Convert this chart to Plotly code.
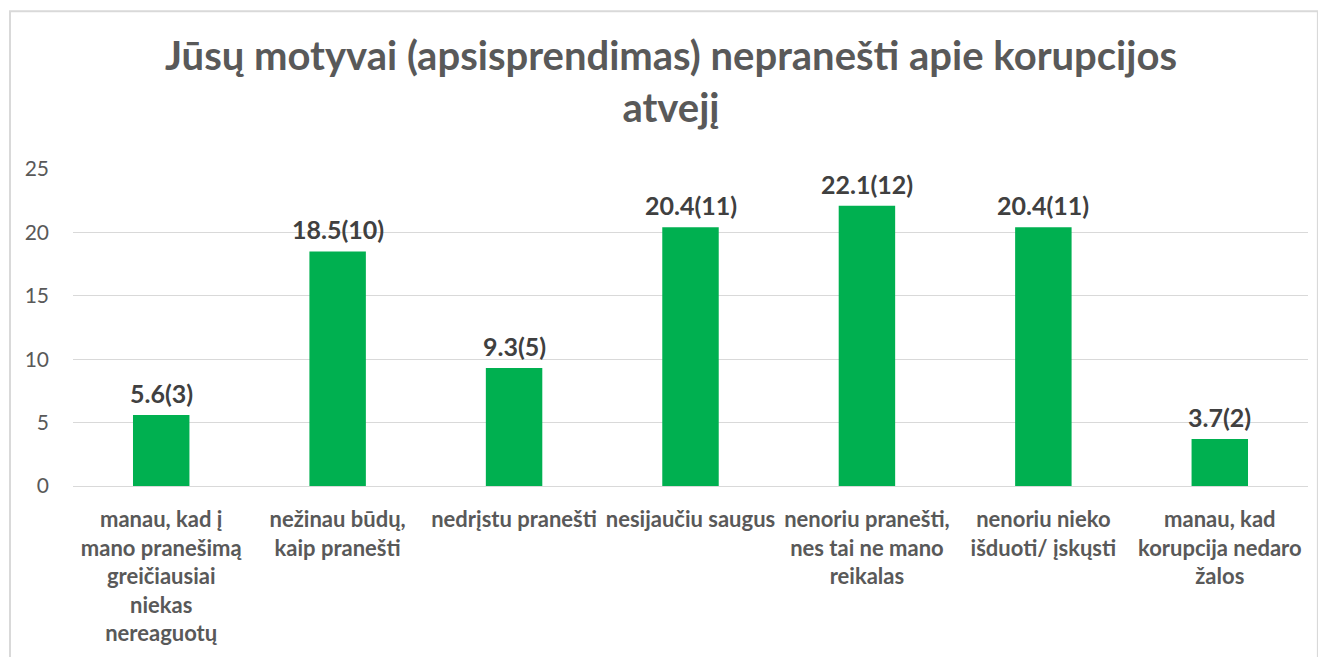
import plotly.graph_objects as go

# Kategorijos (ašies žymės)
categories = [
    "manau, kad į<br>mano pranešimą<br>greičiausiai<br>niekas<br>nereaguotų",
    "nežinau būdų,<br>kaip pranešti",
    "nedrįstu pranešti",
    "nesijaučiu saugus",
    "nenoriu pranešti,<br>nes tai ne mano<br>reikalas",
    "nenoriu nieko<br>išduoti/ įskųsti",
    "manau, kad<br>korupcija nedaro<br>žalos",
]
percent = [5.6, 18.5, 9.3, 20.4, 22.1, 20.4, 3.7]
counts = [3, 10, 5, 11, 12, 11, 2]
y_ticks = [0, 5, 10, 15, 20, 25]

FONT = "Lato, sans-serif"
labels = [f"{p}({c})" for p, c in zip(percent, counts)]

fig = go.Figure(go.Bar(
    x=categories, y=percent,
    marker=dict(color="#00b050", line=dict(width=0)),
))

#Datenbeschriftung ueber den Balken
for cat, val, lab in zip(categories, percent, labels):
    fig.add_annotation(
        x=cat, y=val, text=f"<b>{lab}</b>", showarrow=False,
        yanchor="bottom", yshift=5,
        font=dict(family=FONT, size=25, color="#404040"),
    )

fig.update_layout(
    width=1326, height=657,
    paper_bgcolor="white", plot_bgcolor="white",
    margin=dict(l=65, r=26, t=161, b=179),
    bargap=0.68,
    showlegend=False,
    title=dict(
        text="<b>Jūsų motyvai (apsisprendimas) nepranešti apie korupcijos<br>atvejį</b>",
        x=0.5, xanchor="center", yref="container", y=0.905, yanchor="middle",
        font=dict(family=FONT, size=40, color="#595959"),
    ),
    shapes=[dict(
        type="rect", xref="paper", yref="paper",
        x0=-0.051, x1=1.008, y0=-0.6, y1=1.498,
        line=dict(color="#d9d9d9", width=2), layer="below",
    )],
)
fig.update_xaxes(
    tickfont=dict(family=FONT, size=22, color="#595959", weight="bold"),
    showline=False, ticks="", automargin=False, ticklabelstandoff=18,
)
fig.update_yaxes(
    range=[0, 25], tickvals=y_ticks,
    tickfont=dict(family=FONT, size=21, color="#595959"),
    gridcolor="#d9d9d9", gridwidth=1,
    zeroline=True, zerolinecolor="#d9d9d9", zerolinewidth=1,
    ticks="", ticklen=0, ticklabelstandoff=23, automargin=False,
)

fig.write_html("out.html")
